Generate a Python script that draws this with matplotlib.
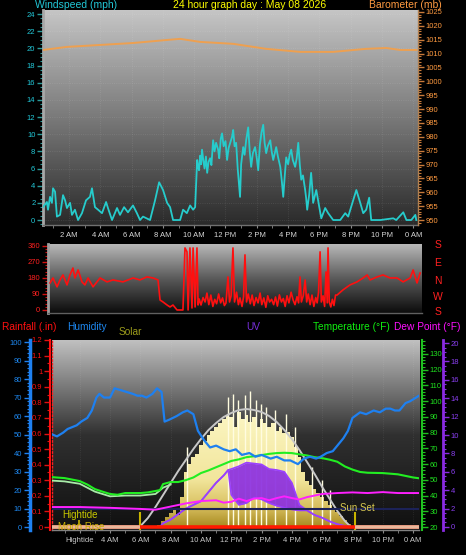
import numpy as np
import matplotlib
matplotlib.use("Agg")
import matplotlib.pyplot as plt
from matplotlib.colors import LinearSegmentedColormap
from matplotlib.ticker import MultipleLocator, FixedLocator, FixedFormatter

plt.rcParams['font.family'] = ['Liberation Sans', 'DejaVu Sans']

W, H = 466, 555

# -- top panel: wind speed (mph) and barometer (mb); times are hours after midnight
wind_t = [0.34, 0.59, 0.66, 0.79, 0.91, 0.98, 1.11, 1.23, 1.43, 1.62, 1.75, 1.87, 2.07, 2.19, 2.38,
          2.58, 2.83, 3.09, 3.34, 3.47, 3.66, 3.86, 4.11, 4.37, 4.49, 4.75, 5.07, 5.26, 5.52, 5.77,
          6.09, 6.34, 6.54, 6.73, 7.18, 7.5, 7.76, 8.01, 8.27, 8.46, 8.65, 9.1, 9.29, 9.53, 9.74,
          9.93, 10.06, 10.12, 10.19, 10.25, 10.31, 10.38, 10.44, 10.5, 10.58, 10.66, 10.75, 10.83,
          10.92, 11.02, 11.1, 11.21, 11.3, 11.4, 11.53, 11.6, 11.7, 11.78, 11.88, 12.0, 12.1, 12.2,
          12.3, 12.42, 12.49, 12.58, 12.68, 12.78, 12.85, 12.93, 13.0, 13.13, 13.22, 13.32, 13.45,
          13.55, 13.64, 13.75, 13.89, 14.0, 14.09, 14.2, 14.3, 14.41, 14.5, 14.6, 14.7, 14.86, 14.95,
          15.05, 15.15, 15.24, 15.35, 15.5, 15.6, 15.69, 15.78, 15.88, 16.0, 16.1, 16.2, 16.3, 16.45,
          16.55, 16.65, 16.75, 16.84, 16.95, 17.09, 17.15, 17.22, 17.35, 17.47, 17.55, 17.6, 17.8,
          17.99, 18.12, 18.37, 18.56, 18.88, 19.33, 19.65, 19.84, 20.16, 20.36, 20.61, 20.8, 20.99,
          21.18, 21.31, 21.89, 22.72, 22.91, 23.36, 23.56, 23.87, 24.13, 24.19]
wind = [1.5, 2.1, 1.2, 2.7, 2.0, 3.7, 3.3, 0.4, 0.6, 2.9, 2.3, 1.4, 2.0, 0.6, 1.2,
        0.0, 0.8, 2.3, 2.7, 3.7, 1.5, 1.2, 0.8, 2.1, 1.4, 0.0, 1.4, 0.6, 1.5, 0.9,
        1.7, 0.8, 0.0, 0.4, 0.0, 2.3, 4.4, 3.5, 2.0, 1.5, 0.0, 0.0, 1.2, 0.8, 1.7,
        1.2, 1.5, 4.0, 7.0, 6.2, 5.8, 7.5, 6.5, 8.2, 7.0, 6.0, 7.4, 5.5,
        6.8, 7.2, 6.4, 9.3, 8.0, 9.0, 8.2, 7.2, 9.5, 10.1, 8.6, 9.2, 7.0, 8.4,
        9.0, 9.7, 10.5, 8.6, 9.0, 6.0, 4.5, 2.7, 6.5, 8.5, 7.6, 9.3, 10.8,
        8.0, 6.2, 7.8, 8.5, 7.2, 5.8, 8.8, 10.2, 11.1, 9.0, 7.8, 8.6, 9.3, 8.0,
        7.0, 7.8, 8.5, 7.4, 6.2, 4.5, 2.7, 5.0, 7.3, 6.5, 7.6, 8.2, 7.0, 6.2,
        7.2, 9.0, 6.4, 4.7, 5.2, 3.5, 2.6, 1.2, 3.0, 5.5, 3.6, 2.0, 3.5,
        1.5, 0.2, 1.4, 0.8, 0.0, 0.0, 0.8, 0.4, 2.3, 3.5, 2.0, 0.8, 1.2,
        2.6, 0.0, 0.0, 0.2, 0.0, 0.9, 0.0, 0.0, 0.6, 0.0]

baro_t = [0.34, 1.87, 3.98, 6.09, 8.27, 9.1, 10.38, 12.49, 14.6, 16.77, 18.88, 20.99, 22.27, 23.17, 24.19]
baro = [1011.3, 1012.4, 1013.1, 1013.8, 1014.9, 1015.3, 1014.2, 1013.5, 1011.7, 1010.6, 1010.6,
        1011.7, 1012.0, 1011.3, 1011.3]

# -- middle panel: wind direction (degrees)
dir_t = [0.43, 0.62, 0.88, 1.07, 1.26, 1.52, 1.71, 1.9, 2.03, 2.23, 2.48, 2.67, 2.87, 3.19, 3.64,
         4.09, 4.47, 5.11, 5.76, 6.2, 6.65, 7.04, 7.36, 7.49, 7.68, 7.94, 8.13, 8.32, 8.58, 8.96,
         9.09, 9.22, 9.29, 9.41, 9.54, 9.61, 9.74, 9.86, 9.93,
         10.0, 10.12, 10.25, 10.38, 10.5, 10.62, 10.75, 10.88, 11.0, 11.12, 11.25, 11.38, 11.5,
         11.62, 11.72, 11.85, 11.95, 12.05, 12.17, 12.27, 12.4, 12.52, 12.62, 12.75, 12.85, 12.94,
         13.04, 13.15, 13.28, 13.4, 13.52, 13.65, 13.78, 13.91, 14.02, 14.15, 14.28, 14.4, 14.52,
         14.65, 14.78, 14.9, 15.02, 15.15, 15.28, 15.4, 15.52, 15.64, 15.76, 15.9, 16.03, 16.15,
         16.28, 16.38, 16.47, 16.56, 16.68, 16.8, 16.9, 17.0, 17.12, 17.24, 17.36, 17.48, 17.57,
         17.66, 17.76, 17.84, 17.95, 18.05, 18.14, 18.22, 18.27, 18.35, 18.45, 18.55, 18.65, 18.75,
         18.85, 19.23, 19.68, 20.13, 20.52, 20.78, 20.97, 21.42, 21.8, 22.25, 22.7, 23.09, 23.54,
         23.73, 23.98, 24.18]
wdir = [152, 180, 130, 169, 197, 141, 197, 236, 180, 225, 158, 141, 180, 130, 180,
        158, 169, 158, 180, 169, 186, 180, 169, 56, 45, 28, 17, 28, 0, 0,
        349, 327, 0, 349, 11, 349, 17, 349, 28,
        62, 28, 70, 45, 95, 30, 84, 20, 60, 35, 90, 40, 68,
        25, 39, 186, 45, 80, 349, 45, 100, 30, 68, 20, 75, 310,
        45, 90, 35, 84, 25, 70, 40, 95, 30, 68, 15, 80, 45,
        60, 30, 73, 22, 85, 45, 65, 20, 80, 40, 100, 56, 30,
        75, 40, 186, 45, 80, 169, 45, 90, 30, 84, 20, 70, 40,
        100, 327, 45, 80, 20, 214, 40, 349, 45, 17, 60, 25, 84,
        84, 113, 141, 158, 180, 197, 169, 186, 197, 180, 180, 158, 180,
        225, 152, 208]

# -- bottom panel
hum_t = [0.2, 0.5, 0.9, 1.2, 1.5, 1.8, 2.1, 2.5, 2.8, 3.1, 3.3, 3.6, 4.0, 4.3, 4.7, 5.1, 5.5, 5.8,
         6.1, 6.4, 6.8, 7.1, 7.4, 7.6, 7.9, 8.4, 8.8, 9.1, 9.5, 9.8, 10.2, 10.6, 11.0, 11.5, 11.9,
         12.3, 12.7, 13.2, 13.6, 14.0, 14.6, 15.0, 15.5, 15.9, 16.4, 16.8, 17.2, 17.6, 17.9, 18.3,
         18.7, 19.0, 19.4, 19.7, 20.0, 20.5, 20.9, 21.4, 21.8, 22.2, 22.5, 22.8, 23.1, 23.5, 23.8,
         24.2, 24.39]
hum = [50, 49, 51, 53, 54, 55, 57, 59, 63, 70, 72, 70, 70, 75, 74, 73, 72, 71,
       71, 70, 72, 75, 73, 57, 58, 60, 62, 63, 61, 52, 47, 43, 44, 42, 41,
       42, 39, 40, 38, 39, 37, 38, 36, 36, 34, 37, 38, 37, 38, 40,
       41, 44, 48, 52, 59, 62, 61, 63, 62, 64, 64, 63, 63, 67, 68,
       70, 71]

temp_t = [0.17, 1.0, 2.0, 2.5, 3.0, 3.5, 4.0, 4.5, 5.0, 6.0, 6.5, 7.0, 7.3, 7.5, 8.0, 8.5, 9.0,
          9.5, 10.0, 10.5, 11.0, 11.5, 12.0, 12.5, 13.0, 13.5, 14.0, 14.5, 15.0, 15.5, 16.0, 16.5,
          17.0, 17.5, 18.0, 18.5, 19.0, 19.5, 20.0, 20.5, 21.0, 22.0, 23.0, 23.5, 24.0, 24.39]
temp = [51.7, 51.1, 49.2, 47.0, 44.1, 42.5, 41.0, 40.5, 41.6, 41.6, 42.0, 42.9, 43.5, 47.3, 48.6,
        48.6, 49.8, 51.5, 54.3, 56.0, 58.0, 60.0, 62.0, 63.0, 64.4, 65.0, 65.7, 66.5, 67.0, 67.2,
        67.0, 66.2, 65.5, 64.4, 63.8, 62.8, 61.5, 58.5, 56.5, 55.0, 54.5, 54.3, 53.5, 52.5, 51.5, 51.0]

feel_t = [0.17, 1.0, 2.0, 3.0, 4.0, 5.0, 6.0, 7.0, 7.5, 8.0]
feel = [49.5, 49.0, 47.5, 42.5, 39.5, 40.0, 40.0, 41.0, 45.0, 47.0]

dew_t = [0.17, 2.0, 4.0, 6.0, 7.0, 8.0, 9.0, 10.0, 11.0, 11.5, 12.0, 12.5, 13.0, 13.5, 14.0, 14.5,
         15.0, 15.5, 16.0, 16.5, 17.0, 18.0, 19.0, 20.0, 21.0, 22.0, 23.0, 24.0, 24.39]
dew = [32.7, 32.7, 32.2, 31.5, 31.0, 33.0, 35.0, 36.5, 37.0, 35.5, 36.0, 38.0, 36.5, 38.0, 38.4, 37.0,
       38.4, 39.5, 38.4, 37.5, 39.0, 41.0, 41.6, 42.0, 41.6, 42.2, 41.6, 41.6, 41.6]

uv_t = [7.3, 7.5, 8.0, 8.5, 9.0, 9.5, 10.0, 10.5, 11.0, 11.5, 11.8, 12.0, 12.5, 13.0, 13.5, 14.0,
        14.5, 15.0, 15.5, 16.0, 16.5, 17.0, 17.5, 18.0, 18.5, 19.0, 19.5, 19.8]
uv_hi = [0, 0.4, 0.8, 1.4, 2.0, 2.4, 2.8, 3.8, 4.8, 5.6, 6.2, 6.3, 6.6, 7.0, 6.9, 6.8,
         6.3, 6.2, 6.0, 4.8, 2.4, 1.8, 1.3, 1.0, 0.6, 0.3, 0.1, 0]
uv_lo = [0, 0.4, 0.8, 1.4, 2.0, 2.4, 2.8, 3.8, 4.8, 5.6, 6.2, 3.5, 2.4, 2.6, 3.2, 3.0,
         2.6, 2.3, 2.1, 1.9, 1.8, 1.8, 1.3, 1.0, 0.6, 0.3, 0.1, 0]

solar_t = [7.0, 7.25, 7.5, 7.75, 8.0, 8.25, 8.5, 8.75, 9.0, 9.25, 9.5, 9.75, 10.0, 10.25, 10.5, 10.75,
           11.0, 11.25, 11.5, 11.75, 12.0, 12.25, 12.5, 12.75, 13.0, 13.25, 13.5, 13.75, 14.0, 14.25,
           14.5, 14.75, 15.0, 15.25, 15.5, 15.75, 16.0, 16.25, 16.5, 16.75, 17.0, 17.25, 17.5, 17.75,
           18.0, 18.25, 18.5, 18.75, 19.0, 19.25, 19.5, 19.75, 20.0]
solar = [0, 12, 36, 60, 84, 108, 72, 180, 330, 380, 420, 440, 492, 516, 552, 576,
         600, 624, 648, 672, 660, 600, 690, 648, 672, 630, 660, 600, 648, 624,
         600, 624, 576, 600, 564, 570, 540, 480, 420, 330, 276, 252, 228, 204,
         180, 156, 132, 114, 90, 66, 42, 18, 0]
spike_t = [9.05, 11.8, 12.1, 12.45, 12.9, 13.25, 13.6, 13.95, 14.3, 14.9, 15.6, 16.2, 17.3, 18.0, 18.5]
spike = [480, 780, 800, 760, 790, 816, 760, 740, 720, 700, 680, 600, 360, 280, 220]

arc_t = [5.95, 6.5, 7.0, 7.5, 8.0, 8.5, 9.0, 9.5, 10.0, 10.5, 11.0, 11.5, 12.0, 12.5, 13.0, 13.5,
         14.0, 14.5, 15.0, 15.5, 16.0, 16.5, 17.0, 17.5, 18.0, 18.5, 19.0, 19.5, 19.9]
arc = [0, 54, 120, 192, 264, 336, 402, 468, 528, 582, 624, 660, 684, 702, 708, 702,
       690, 666, 630, 582, 528, 462, 390, 318, 240, 168, 96, 36, 0]

rain_t = [0.17, 24.39]
rain = [0.0, 0.0]

sunrise, sunset, hightide, moonrise = 5.95, 20.15, 1.96, 7.57

hour_ticks = [2, 4, 6, 8, 10, 12, 14, 16, 18, 20, 22, 24]
hour_labels = ['2 AM', '4 AM', '6 AM', '8 AM', '10 AM', '12 PM', '2 PM', '4 PM', '6 PM', '8 PM',
               '10 PM', '0 AM']
# bottom panel shows the high tide note in place of "2 AM"
bottom_labels = ['Hightide'] + hour_labels[1:]


def box(x0, x1, y0, y1):
    return [x0 / W, 1 - y1 / H, (x1 - x0) / W, (y1 - y0) / H]


def ftext(x, y, s, **kw):
    fig.text(x / W, 1 - y / H, s, **kw)


def backdrop(ax, stops):
    cmap = LinearSegmentedColormap.from_list('bg', stops)
    grad = np.linspace(0, 1, 256).reshape(-1, 1)
    ax.imshow(grad, cmap=cmap, origin='lower', extent=[0, 1, 0, 1],
              transform=ax.transAxes, aspect='auto', zorder=0)


def yticks(ax, side, major, minor, color, labelcolor, fmt=None):
    ax.yaxis.set_major_locator(FixedLocator(major))
    if fmt is not None:
        ax.yaxis.set_major_formatter(FixedFormatter(fmt))
    ax.yaxis.set_minor_locator(MultipleLocator(minor))
    ax.tick_params(axis='y', which='major', length=4, width=1, color=color,
                   labelcolor=labelcolor, labelsize=5.5, pad=1.5, direction='out')
    ax.tick_params(axis='y', which='minor', length=2, width=0.8, color=color, direction='out')


fig = plt.figure(figsize=(W / 100, H / 100), dpi=100, facecolor='black')

# ---------------- top panel
ax1 = fig.add_axes(box(43, 418, 10, 225))
backdrop(ax1, ['#2a2a2a', '#7a7a7a', '#c6c6c6'])
ax1.grid(True, color='white', alpha=0.12, lw=0.6, ls=':')
ax1.plot(wind_t, wind, color='#26cccc', lw=1.3, zorder=3)
ax1.set_xlim(0.34, 24.3)
ax1.set_ylim(-0.58, 24.48)
yticks(ax1, 'left', list(range(0, 25, 2)), 0.5, '#2a9a9a', '#22c8d8')
ax1.set_xticks(hour_ticks)
ax1.set_xticklabels(hour_labels)
ax1.xaxis.set_minor_locator(MultipleLocator(1))
ax1.tick_params(axis='x', which='both', length=2, color='#8a8a8a', labelsize=5.5,
                labelcolor='#d8d8d8', pad=3)
for s in ['top', 'right']:
    ax1.spines[s].set_visible(False)
ax1.spines['left'].set(color='#a8a8a8', linewidth=2)
ax1.spines['bottom'].set(color='#707070', linewidth=1)

ax1b = ax1.twinx()
ax1b.plot(baro_t, baro, color='#eea050', lw=1.4, zorder=3)
ax1b.set_ylim(948.2, 1025.7)
yticks(ax1b, 'right', list(range(950, 1026, 5)), 1, '#c87a3a', '#ff9a40')
for s in ['top', 'left', 'bottom']:
    ax1b.spines[s].set_visible(False)
ax1b.spines['right'].set(color='#b08050', linewidth=1)

ftext(35, 5, 'Windspeed (mph)', color='#22c8d8', fontsize=7.5, va='center')
ftext(173, 5, '24 hour graph day : May 08 2026', color='#ffff00', fontsize=7.5, va='center')
ftext(442, 5, 'Barometer (mb)', color='#ff9a40', fontsize=7.5, va='center', ha='right')

# ---------------- middle panel
ax2 = fig.add_axes(box(48, 422, 244, 313))
backdrop(ax2, ['#0c0c0c', '#5a5a5a', '#b8b8b8'])
ax2.grid(True, axis='x', color='white', alpha=0.1, lw=0.6, ls=':')
ax2.plot(dir_t, wdir, color='#ff1010', lw=1.2, zorder=3)
ax2.set_xlim(0.3, 24.3)
ax2.set_ylim(-17, 371)
yticks(ax2, 'left', [0, 90, 180, 270, 360], 18, '#d01010', '#ff2020')
ax2.set_xticks([])
for s in ['top', 'right']:
    ax2.spines[s].set_visible(False)
ax2.spines['left'].set(color='#a0a0a0', linewidth=2)
ax2.spines['bottom'].set(color='#606060', linewidth=1)
for letter, yy in zip('SENWS', [245, 263, 281, 297, 312]):
    ftext(438, yy, letter, color='#ff2020', fontsize=7.5, ha='center', va='center')

# ---------------- bottom panel
ax3 = fig.add_axes(box(52, 419, 340, 530))
backdrop(ax3, ['#101010', '#303030', '#c0c0c0'])
ax3.grid(True, axis='x', color='white', alpha=0.1, lw=0.6, ls=':')

# solar: gradient fill clipped to the measured area
gold = LinearSegmentedColormap.from_list('gold', [(0, '#a88a20'), (0.15, '#d8c060'),
                                                  (0.35, '#f2e69c'), (1, '#fffbd0')])
shape = ax3.fill_between(solar_t, 0, solar, step='mid', facecolor='none', edgecolor='none')
img = ax3.imshow(np.linspace(0, 1, 256).reshape(-1, 1), cmap=gold, origin='lower',
                 extent=[6, 21, 0, 820], aspect='auto', zorder=2)
img.set_clip_path(shape.get_paths()[0], shape.get_transform())
ax3.vlines(spike_t, 0, spike, color='#fffce0', lw=1, zorder=2)
ax3.plot(arc_t, arc, color='#c8c8c8', lw=1.4, zorder=2.5)

# event markers
ax3.vlines([sunrise, sunset], -18, 90, color='#c8b400', lw=1.5, zorder=2.6)
ax3.vlines([hightide], 0, 42, color='#c8b400', lw=1.2, zorder=2.6)
ax3.vlines([moonrise], 0, 42, color='#c8b400', lw=1.2, ls=':', zorder=2.6)
ax3.set_xlim(0.17, 24.39)
ax3.set_ylim(-18, 1122)
ax3.set_yticks([])
ax3.set_xticks(hour_ticks)
ax3.set_xticklabels(bottom_labels)
ax3.xaxis.set_minor_locator(MultipleLocator(1))
ax3.tick_params(axis='x', which='both', length=2, color='#8a8a8a', labelsize=5.5,
                labelcolor='#c8c8c8', pad=3)
for s in ['top', 'right']:
    ax3.spines[s].set_visible(False)
ax3.spines['left'].set(color='#ff2020', linestyle=':', linewidth=1)
ax3.spines['bottom'].set(color='#808080', linewidth=1)

# UV
axu = ax3.twinx()
axu.fill_between(uv_t, uv_lo, uv_hi, color='#8a2be2', alpha=0.9, lw=0)
axu.plot(uv_t, uv_hi, color='#9a40ff', lw=1.2)
axu.plot(uv_t, uv_lo, color='#9a40ff', lw=1.2)
axu.axhline(2, color='#1c2258', lw=1.5)
axu.set_ylim(-0.33, 20.33)
yticks(axu, 'right', list(range(0, 21, 2)), 0.5, '#8a2be2', '#8a3ff0')
for s in ['top', 'left', 'bottom']:
    axu.spines[s].set_visible(False)
axu.spines['right'].set_position(('axes', 1.0654))
axu.spines['right'].set(color='#8a2be2', linewidth=2)

# temperature and dew point
axt = ax3.twinx()
axt.plot(feel_t, feel, color='#a8eca8', lw=1.3)
axt.plot(temp_t, temp, color='#22ee22', lw=1.5)
axt.plot(dew_t, dew, color='#ff20ff', lw=1.4)
axt.set_ylim(18.1, 138.9)
yticks(axt, 'right', list(range(20, 131, 10)), 2, '#20c020', '#20e020')
for s in ['top', 'left', 'bottom']:
    axt.spines[s].set_visible(False)
axt.spines['right'].set_position(('axes', 1.0082))
axt.spines['right'].set(color='#20c020', linewidth=1.5)

# humidity
axh = ax3.twinx()
axh.plot(hum_t, hum, color='#1e80f0', lw=1.6)
axh.set_ylim(-1.6, 101.1)
axh.yaxis.tick_left()
yticks(axh, 'left', list(range(0, 101, 10)), 2, '#1e80f0', '#1e88f0')
for s in ['top', 'right', 'bottom']:
    axh.spines[s].set_visible(False)
axh.spines['left'].set_visible(True)
axh.spines['left'].set_position(('axes', -0.06))
axh.spines['left'].set(color='#1e80f0', linewidth=2.5)

# rainfall plus day / night strip
axr = ax3.twinx()
axr.plot(rain_t, rain, color='#ff1a00', lw=2.6, solid_capstyle='butt')
axr.plot([rain_t[0], sunrise], [0, 0], color='#e8b89c', lw=2.6, solid_capstyle='butt')
axr.plot([sunset, rain_t[-1]], [0, 0], color='#e8b89c', lw=2.6, solid_capstyle='butt')
axr.set_ylim(-0.019, 1.2)
axr.yaxis.tick_left()
rain_ticks = [0, 0.1, 0.2, 0.3, 0.4, 0.5, 0.6, 0.7, 0.8, 0.9, 1.0, 1.1, 1.2]
yticks(axr, 'left', rain_ticks, 0.05, '#e01010', '#ff1010', [f'{v:g}' for v in rain_ticks])
for s in ['top', 'right', 'bottom']:
    axr.spines[s].set_visible(False)
axr.spines['left'].set_visible(True)
axr.spines['left'].set_position(('axes', -0.0054))
axr.spines['left'].set(color='#ff1010', linewidth=1.5)

ftext(2, 327, 'Rainfall (.in)', color='#ff1010', fontsize=7.3, va='center')
ftext(67, 327, 'Humidity', color='#1e88f0', fontsize=7.3, va='center')
ftext(119, 332, 'Solar', color='#9c9c1c', fontsize=7.3, va='center')
ftext(246, 327, 'UV', color='#7a2fdf', fontsize=7.3, va='center')
ftext(313, 327, 'Temperature (\u00b0F)', color='#10ee10', fontsize=7.3, va='center')
ftext(394, 327, 'Dew Point (\u00b0F)', color='#ff10ff', fontsize=7.3, va='center')

ftext(62, 515, 'Hightide', color='#c8c800', fontsize=7, va='center')
ftext(58, 527, 'Moon Rise', color='#c8b000', fontsize=7, va='center')
ftext(340, 508, 'Sun Set', color='#d8c850', fontsize=7, va='center')

fig.savefig('out.png', dpi=100, facecolor='black')
